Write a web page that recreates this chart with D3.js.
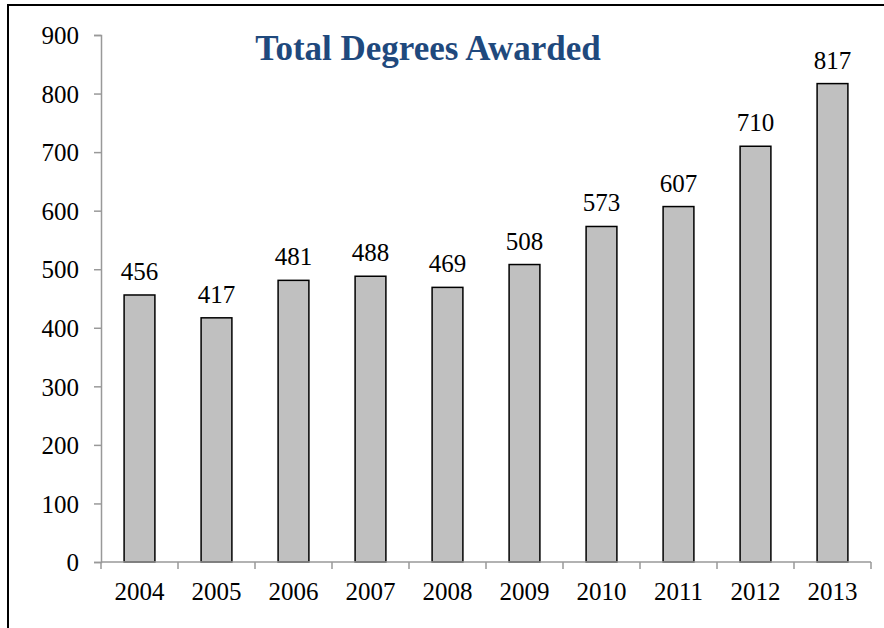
<!DOCTYPE html>
<html>
<head>
<meta charset="utf-8">
<script src="https://cdn.jsdelivr.net/npm/d3@7"></script>
<style>
  body { margin: 0; background: #fff; }
  svg text { font-family: "Liberation Serif", "Times New Roman", serif; }
</style>
</head>
<body>
<div id="chart"></div>
<script>
var years = ['2004','2005','2006','2007','2008','2009','2010','2011','2012','2013'];
var degrees = [456, 417, 481, 488, 469, 508, 573, 607, 710, 817];
var yTicks = [0, 100, 200, 300, 400, 500, 600, 700, 800, 900];

var W = 884, H = 628;
var svg = d3.select('#chart').append('svg')
            .attr('width', W)
            .attr('height', H);

// outer frame (only left + top edges fall inside the picture)
svg.append('path')
   .attr('d', 'M8,' + H + ' L8,5 L' + W + ',5')
   .attr('fill', 'none')
   .attr('stroke', '#000')
   .attr('stroke-width', 2);

var x = d3.scaleBand()
          .domain(years)
          .range([101, 871])
          .paddingInner(0.6)
          .paddingOuter(0.3);
var y = d3.scaleLinear().domain([0, 900]).range([562, 35]);

// bars
svg.selectAll('rect.bar')
   .data(degrees)
   .enter().append('rect')
   .attr('class', 'bar')
   .attr('x', (d, i) => x(years[i]))
   .attr('y', d => y(d))
   .attr('width', x.bandwidth())
   .attr('height', d => y(0) - y(d))
   .style('fill', '#c0c0c0')
   .style('stroke', '#000')
   .style('stroke-width', 1.5);

// value labels
svg.selectAll('text.val')
   .data(degrees)
   .enter().append('text')
   .attr('class', 'val')
   .attr('x', (d, i) => x(years[i]) + x.bandwidth() / 2)
   .attr('y', d => y(d) - 15)
   .attr('text-anchor', 'middle')
   .style('font-size', '25px')
   .style('fill', '#000')
   .text(d => d);

// y axis
var yAxis = svg.append('g')
   .attr('transform', 'translate(101,0)')
   .call(d3.axisLeft(y).tickValues(yTicks).tickSize(7).tickPadding(15).tickFormat(d3.format('d')));
yAxis.select('.domain').attr('stroke', '#999').attr('stroke-width', 1.5);
yAxis.selectAll('.tick line').attr('stroke', '#999').attr('stroke-width', 1.5);
yAxis.selectAll('.tick text')
     .style('font-size', '25px')
     .style('fill', '#000')
     .attr('dy', '0.35em');

// x axis: baseline with ticks at category boundaries
var xAxisG = svg.append('g').attr('transform', 'translate(0,' + y(0) + ')');
xAxisG.append('line')
      .attr('x1', 101).attr('x2', 871)
      .attr('stroke', '#999').attr('stroke-width', 1.5);
xAxisG.selectAll('line.tk')
      .data(d3.range(years.length + 1))
      .enter().append('line')
      .attr('class', 'tk')
      .attr('x1', i => 101 + i * x.step())
      .attr('x2', i => 101 + i * x.step())
      .attr('y1', 0).attr('y2', 7)
      .attr('stroke', '#999').attr('stroke-width', 1.5);
xAxisG.selectAll('text')
      .data(years)
      .enter().append('text')
      .attr('x', d => x(d) + x.bandwidth() / 2)
      .attr('y', 38)
      .attr('text-anchor', 'middle')
      .style('font-size', '25px')
      .style('fill', '#000')
      .text(d => d);

// title
svg.append('text')
   .attr('x', 428)
   .attr('y', 60)
   .attr('text-anchor', 'middle')
   .style('font-size', '35px')
   .style('font-weight', 'bold')
   .style('fill', '#1f497d')
   .text('Total Degrees Awarded');
</script>
</body>
</html>
